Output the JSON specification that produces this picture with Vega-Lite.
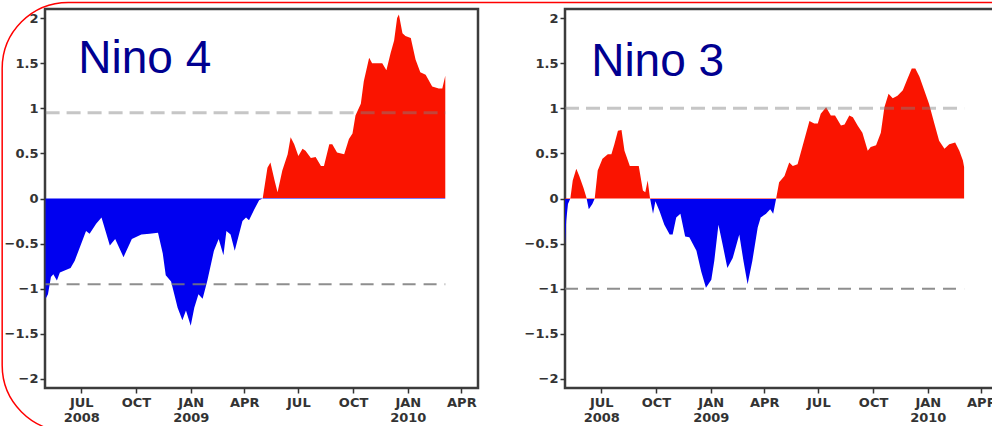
{
  "$schema": "https://vega.github.io/schema/vega-lite/v6.json",
  "padding": {"left": 0, "top": 0, "right": 0, "bottom": 0},
  "background": "white",
  "spacing": 87,
  "bounds": "flush",
  "config": {
    "view": {"stroke": "#3c3c3c", "strokeWidth": 2.5},
    "axis": {"labelFont": "DejaVu Sans", "labelFontWeight": "bold", "labelFontSize": 13, "labelColor": "#333333", "tickColor": "#333333", "tickSize": 5, "tickWidth": 1.5, "domain": false, "grid": false}
  },
  "datasets": {
    "nino4": [
      {"date": "2008-05-02", "v": -1.11}, {"date": "2008-05-06", "v": -1.06}, {"date": "2008-05-11", "v": -0.87}, {"date": "2008-05-15", "v": -0.84},
      {"date": "2008-05-21", "v": -0.91}, {"date": "2008-05-26", "v": -0.82}, {"date": "2008-06-13", "v": -0.77}, {"date": "2008-06-20", "v": -0.69},
      {"date": "2008-06-28", "v": -0.55}, {"date": "2008-07-09", "v": -0.36}, {"date": "2008-07-15", "v": -0.39}, {"date": "2008-07-26", "v": -0.28},
      {"date": "2008-08-04", "v": -0.21}, {"date": "2008-08-18", "v": -0.52}, {"date": "2008-08-27", "v": -0.45}, {"date": "2008-09-10", "v": -0.65},
      {"date": "2008-09-24", "v": -0.45}, {"date": "2008-10-10", "v": -0.40}, {"date": "2008-10-24", "v": -0.39}, {"date": "2008-11-07", "v": -0.38},
      {"date": "2008-11-15", "v": -0.61}, {"date": "2008-11-20", "v": -0.85}, {"date": "2008-11-29", "v": -0.92}, {"date": "2008-12-10", "v": -1.21},
      {"date": "2008-12-18", "v": -1.35}, {"date": "2008-12-24", "v": -1.24}, {"date": "2009-01-01", "v": -1.41}, {"date": "2009-01-07", "v": -1.21},
      {"date": "2009-01-14", "v": -1.06}, {"date": "2009-01-21", "v": -1.11}, {"date": "2009-01-29", "v": -0.91}, {"date": "2009-02-09", "v": -0.58},
      {"date": "2009-02-17", "v": -0.45}, {"date": "2009-02-25", "v": -0.63}, {"date": "2009-03-02", "v": -0.36}, {"date": "2009-03-09", "v": -0.40},
      {"date": "2009-03-16", "v": -0.58}, {"date": "2009-03-29", "v": -0.25}, {"date": "2009-04-04", "v": -0.21}, {"date": "2009-04-09", "v": -0.24},
      {"date": "2009-04-18", "v": -0.12}, {"date": "2009-04-26", "v": -0.02}, {"date": "2009-05-02", "v": 0.00}, {"date": "2009-05-10", "v": 0.34},
      {"date": "2009-05-15", "v": 0.40}, {"date": "2009-05-22", "v": 0.20}, {"date": "2009-05-27", "v": 0.07}, {"date": "2009-06-04", "v": 0.31},
      {"date": "2009-06-13", "v": 0.49}, {"date": "2009-06-18", "v": 0.68}, {"date": "2009-06-24", "v": 0.60}, {"date": "2009-07-01", "v": 0.47},
      {"date": "2009-07-08", "v": 0.55}, {"date": "2009-07-13", "v": 0.53}, {"date": "2009-07-22", "v": 0.45}, {"date": "2009-07-30", "v": 0.46},
      {"date": "2009-08-08", "v": 0.36}, {"date": "2009-08-13", "v": 0.36}, {"date": "2009-08-22", "v": 0.60}, {"date": "2009-08-27", "v": 0.60},
      {"date": "2009-09-04", "v": 0.51}, {"date": "2009-09-16", "v": 0.49}, {"date": "2009-09-24", "v": 0.66}, {"date": "2009-09-30", "v": 0.72},
      {"date": "2009-10-05", "v": 0.92}, {"date": "2009-10-14", "v": 1.05}, {"date": "2009-10-19", "v": 1.30}, {"date": "2009-10-28", "v": 1.56},
      {"date": "2009-11-02", "v": 1.50}, {"date": "2009-11-11", "v": 1.50}, {"date": "2009-11-19", "v": 1.50}, {"date": "2009-11-26", "v": 1.42},
      {"date": "2009-12-03", "v": 1.61}, {"date": "2009-12-09", "v": 1.75}, {"date": "2009-12-14", "v": 2.00}, {"date": "2009-12-17", "v": 2.04},
      {"date": "2009-12-23", "v": 1.83}, {"date": "2009-12-28", "v": 1.80}, {"date": "2010-01-06", "v": 1.78}, {"date": "2010-01-14", "v": 1.54},
      {"date": "2010-01-22", "v": 1.40}, {"date": "2010-01-31", "v": 1.37}, {"date": "2010-02-11", "v": 1.24}, {"date": "2010-02-22", "v": 1.22},
      {"date": "2010-02-28", "v": 1.22}, {"date": "2010-03-05", "v": 1.36}
    ],
    "nino3": [
      {"date": "2008-05-01", "v": -0.51}, {"date": "2008-05-03", "v": -0.25}, {"date": "2008-05-06", "v": -0.06}, {"date": "2008-05-10", "v": 0.00},
      {"date": "2008-05-14", "v": 0.20}, {"date": "2008-05-20", "v": 0.33}, {"date": "2008-05-25", "v": 0.25}, {"date": "2008-06-01", "v": 0.12},
      {"date": "2008-06-06", "v": 0.01}, {"date": "2008-06-10", "v": -0.12}, {"date": "2008-06-16", "v": -0.06}, {"date": "2008-06-20", "v": 0.00},
      {"date": "2008-06-25", "v": 0.31}, {"date": "2008-07-03", "v": 0.44}, {"date": "2008-07-12", "v": 0.49}, {"date": "2008-07-18", "v": 0.49},
      {"date": "2008-07-23", "v": 0.60}, {"date": "2008-07-29", "v": 0.75}, {"date": "2008-08-04", "v": 0.76}, {"date": "2008-08-09", "v": 0.53},
      {"date": "2008-08-18", "v": 0.36}, {"date": "2008-08-23", "v": 0.36}, {"date": "2008-09-02", "v": 0.36}, {"date": "2008-09-09", "v": 0.09},
      {"date": "2008-09-13", "v": 0.07}, {"date": "2008-09-17", "v": 0.20}, {"date": "2008-09-21", "v": 0.00}, {"date": "2008-09-26", "v": -0.17},
      {"date": "2008-09-30", "v": -0.03}, {"date": "2008-10-07", "v": -0.14}, {"date": "2008-10-15", "v": -0.29}, {"date": "2008-10-24", "v": -0.40},
      {"date": "2008-10-29", "v": -0.40}, {"date": "2008-11-04", "v": -0.21}, {"date": "2008-11-11", "v": -0.17}, {"date": "2008-11-19", "v": -0.42},
      {"date": "2008-11-26", "v": -0.43}, {"date": "2008-12-08", "v": -0.58}, {"date": "2008-12-16", "v": -0.81}, {"date": "2008-12-24", "v": -0.99},
      {"date": "2009-01-02", "v": -0.90}, {"date": "2009-01-07", "v": -0.69}, {"date": "2009-01-14", "v": -0.29}, {"date": "2009-01-21", "v": -0.51},
      {"date": "2009-01-29", "v": -0.77}, {"date": "2009-02-07", "v": -0.66}, {"date": "2009-02-18", "v": -0.40}, {"date": "2009-02-25", "v": -0.69},
      {"date": "2009-03-04", "v": -0.95}, {"date": "2009-03-12", "v": -0.69}, {"date": "2009-03-21", "v": -0.32}, {"date": "2009-03-26", "v": -0.21},
      {"date": "2009-04-04", "v": -0.17}, {"date": "2009-04-11", "v": -0.12}, {"date": "2009-04-16", "v": -0.17}, {"date": "2009-04-21", "v": 0.00},
      {"date": "2009-04-26", "v": 0.18}, {"date": "2009-05-05", "v": 0.25}, {"date": "2009-05-13", "v": 0.40}, {"date": "2009-05-19", "v": 0.36},
      {"date": "2009-05-27", "v": 0.38}, {"date": "2009-06-04", "v": 0.57}, {"date": "2009-06-16", "v": 0.86}, {"date": "2009-06-24", "v": 0.83},
      {"date": "2009-06-30", "v": 0.83}, {"date": "2009-07-05", "v": 0.94}, {"date": "2009-07-14", "v": 1.01}, {"date": "2009-07-22", "v": 0.92},
      {"date": "2009-07-29", "v": 0.92}, {"date": "2009-08-08", "v": 0.81}, {"date": "2009-08-14", "v": 0.82}, {"date": "2009-08-22", "v": 0.92},
      {"date": "2009-08-28", "v": 0.90}, {"date": "2009-09-05", "v": 0.81}, {"date": "2009-09-13", "v": 0.73}, {"date": "2009-09-22", "v": 0.53},
      {"date": "2009-09-27", "v": 0.57}, {"date": "2009-10-06", "v": 0.59}, {"date": "2009-10-14", "v": 0.73}, {"date": "2009-10-20", "v": 1.01},
      {"date": "2009-10-27", "v": 1.16}, {"date": "2009-11-03", "v": 1.11}, {"date": "2009-11-11", "v": 1.14}, {"date": "2009-11-20", "v": 1.20},
      {"date": "2009-11-28", "v": 1.33}, {"date": "2009-12-05", "v": 1.44}, {"date": "2009-12-11", "v": 1.44}, {"date": "2009-12-18", "v": 1.35},
      {"date": "2009-12-26", "v": 1.20}, {"date": "2010-01-03", "v": 1.05}, {"date": "2010-01-12", "v": 0.83}, {"date": "2010-01-20", "v": 0.64},
      {"date": "2010-01-29", "v": 0.55}, {"date": "2010-02-06", "v": 0.60}, {"date": "2010-02-16", "v": 0.62}, {"date": "2010-02-23", "v": 0.53},
      {"date": "2010-03-01", "v": 0.42}, {"date": "2010-03-03", "v": 0.35}
    ]
  },
  "hconcat": [
    {
      "width": 433,
      "height": 379,
      "layer": [
        {
          "data": {"values": [{}]},
          "mark": {"type": "rect", "filled": false, "color": "#ff0000", "strokeWidth": 1.5, "cornerRadius": 66, "clip": false},
          "encoding": {
            "x": {"datum": {"year": 2008, "month": 2, "date": 19, "utc": true}, "type": "temporal"},
            "x2": {"datum": {"year": 2013, "month": 6, "date": 1, "utc": true}},
            "y": {"datum": 2.172, "type": "quantitative"},
            "y2": {"datum": -2.58}
          }
        },
        {
          "data": {"name": "nino4"},
          "mark": {"type": "area", "interpolate": "linear", "color": {"gradient": "linear", "x1": 0, "y1": 0, "x2": 0, "y2": 1, "stops": [{"offset": 0, "color": "#fa1400"}, {"offset": 0.5913, "color": "#fa1400"}, {"offset": 0.5913, "color": "#0000f0"}, {"offset": 1, "color": "#0000f0"}]}},
          "encoding": {
            "x": {"field": "date", "type": "temporal", "title": null,
              "scale": {"type": "utc", "domain": [{"year": 2008, "month": 5, "date": 1, "utc": true}, {"year": 2010, "month": 4, "date": 29, "utc": true}]},
              "axis": {"values": [{"year": 2008, "month": 7, "date": 1, "utc": true}, {"year": 2008, "month": 10, "date": 1, "utc": true}, {"year": 2009, "month": 1, "date": 1, "utc": true}, {"year": 2009, "month": 4, "date": 1, "utc": true}, {"year": 2009, "month": 7, "date": 1, "utc": true}, {"year": 2009, "month": 10, "date": 1, "utc": true}, {"year": 2010, "month": 1, "date": 1, "utc": true}, {"year": 2010, "month": 4, "date": 1, "utc": true}],
                "labelExpr": "(utcmonth(datum.value) == 0 || (utcmonth(datum.value) == 6 && utcyear(datum.value) == 2008)) ? [upper(utcFormat(datum.value, '%b')), utcFormat(datum.value, '%Y')] : [upper(utcFormat(datum.value, '%b')), '']",
                "labelLineHeight": 15, "labelPadding": 3, "labelOverlap": false}},
            "y": {"field": "v", "type": "quantitative", "title": null,
              "scale": {"domain": [-2.1, 2.1], "nice": false, "zero": false},
              "axis": {"values": [-2, -1.5, -1, -0.5, 0, 0.5, 1, 1.5, 2], "format": "~g", "labelPadding": 2}},
            "y2": {"datum": 0}
          }
        },
        {
          "data": {"values": [{"s": "2008-05-02", "e": "2010-03-05", "lev": 0.95}]},
          "mark": {"type": "rule", "stroke": "#808080", "strokeOpacity": 0.45, "strokeWidth": 3, "strokeDash": [14, 7]},
          "encoding": {"x": {"field": "s", "type": "temporal", "title": null}, "x2": {"field": "e"}, "y": {"field": "lev", "type": "quantitative", "title": null}}
        },
        {
          "data": {"values": [{"s": "2008-05-02", "e": "2010-03-05", "lev": -0.95}]},
          "mark": {"type": "rule", "stroke": "#7a7a7a", "strokeOpacity": 0.85, "strokeWidth": 1.8, "strokeDash": [13, 8]},
          "encoding": {"x": {"field": "s", "type": "temporal", "title": null}, "x2": {"field": "e"}, "y": {"field": "lev", "type": "quantitative", "title": null}}
        },
        {
          "data": {"values": [{"d": "2008-06-26", "lev": 1.395, "label": "Nino 4"}]},
          "mark": {"type": "text", "align": "left", "baseline": "alphabetic", "font": "Liberation Sans", "fontSize": 46, "color": "#000090"},
          "encoding": {"x": {"field": "d", "type": "temporal", "title": null}, "y": {"field": "lev", "type": "quantitative", "title": null}, "text": {"field": "label"}}
        }
      ]
    },
    {
      "width": 433,
      "height": 379,
      "layer": [
        {
          "data": {"name": "nino3"},
          "mark": {"type": "area", "interpolate": "linear", "color": {"gradient": "linear", "x1": 0, "y1": 0, "x2": 0, "y2": 1, "stops": [{"offset": 0, "color": "#fa1400"}, {"offset": 0.5926, "color": "#fa1400"}, {"offset": 0.5926, "color": "#0000f0"}, {"offset": 1, "color": "#0000f0"}]}},
          "encoding": {
            "x": {"field": "date", "type": "temporal", "title": null,
              "scale": {"type": "utc", "domain": [{"year": 2008, "month": 5, "date": 1, "utc": true}, {"year": 2010, "month": 4, "date": 29, "utc": true}]},
              "axis": {"values": [{"year": 2008, "month": 7, "date": 1, "utc": true}, {"year": 2008, "month": 10, "date": 1, "utc": true}, {"year": 2009, "month": 1, "date": 1, "utc": true}, {"year": 2009, "month": 4, "date": 1, "utc": true}, {"year": 2009, "month": 7, "date": 1, "utc": true}, {"year": 2009, "month": 10, "date": 1, "utc": true}, {"year": 2010, "month": 1, "date": 1, "utc": true}, {"year": 2010, "month": 4, "date": 1, "utc": true}],
                "labelExpr": "(utcmonth(datum.value) == 0 || (utcmonth(datum.value) == 6 && utcyear(datum.value) == 2008)) ? [upper(utcFormat(datum.value, '%b')), utcFormat(datum.value, '%Y')] : [upper(utcFormat(datum.value, '%b')), '']",
                "labelLineHeight": 15, "labelPadding": 3, "labelOverlap": false}},
            "y": {"field": "v", "type": "quantitative", "title": null,
              "scale": {"domain": [-2.1, 2.1], "nice": false, "zero": false},
              "axis": {"values": [-2, -1.5, -1, -0.5, 0, 0.5, 1, 1.5, 2], "format": "~g", "labelPadding": 2}},
            "y2": {"datum": 0}
          }
        },
        {
          "data": {"values": [{"s": "2008-05-01", "e": "2010-03-03", "lev": 1.0}]},
          "mark": {"type": "rule", "stroke": "#808080", "strokeOpacity": 0.45, "strokeWidth": 3, "strokeDash": [14, 7]},
          "encoding": {"x": {"field": "s", "type": "temporal", "title": null}, "x2": {"field": "e"}, "y": {"field": "lev", "type": "quantitative", "title": null}}
        },
        {
          "data": {"values": [{"s": "2008-05-01", "e": "2010-03-03", "lev": -1.0}]},
          "mark": {"type": "rule", "stroke": "#7a7a7a", "strokeOpacity": 0.85, "strokeWidth": 1.8, "strokeDash": [13, 8]},
          "encoding": {"x": {"field": "s", "type": "temporal", "title": null}, "x2": {"field": "e"}, "y": {"field": "lev", "type": "quantitative", "title": null}}
        },
        {
          "data": {"values": [{"d": "2008-06-14", "lev": 1.36, "label": "Nino 3"}]},
          "mark": {"type": "text", "align": "left", "baseline": "alphabetic", "font": "Liberation Sans", "fontSize": 46, "color": "#000090"},
          "encoding": {"x": {"field": "d", "type": "temporal", "title": null}, "y": {"field": "lev", "type": "quantitative", "title": null}, "text": {"field": "label"}}
        }
      ]
    }
  ]
}
